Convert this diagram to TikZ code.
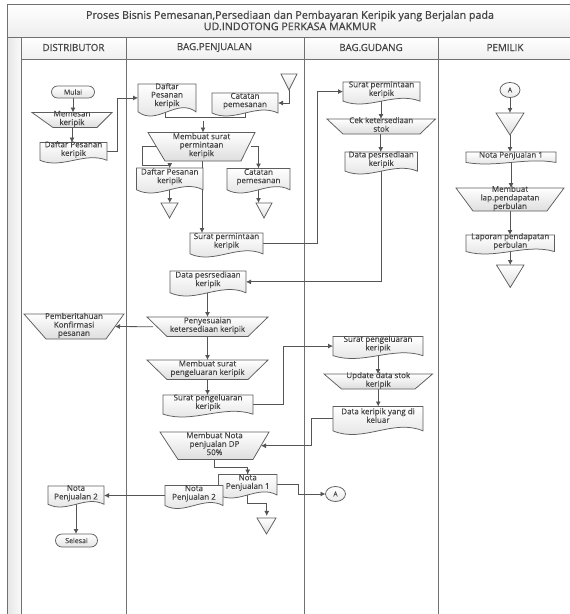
\documentclass[tikz,border=0pt]{standalone}
\usepackage{fontspec}
\setmainfont{Open Sans}[FakeBold=0.25]
\newfontfamily\headfont{Open Sans}[FakeBold=0.7]
\usetikzlibrary{shapes.misc,shapes.geometric,arrows.meta,calc}
\pgfdeclarelayer{bg}
\pgfsetlayers{bg,main}
\definecolor{ink}{HTML}{454545}
\definecolor{edge}{HTML}{5E5E5E}
\definecolor{wire}{HTML}{555555}
\definecolor{lane}{HTML}{707070}
\tikzset{
  shapeline/.style={draw=edge,line width=.75pt,top color=white,bottom color=black!13},
  anchorbox/.style={rectangle,inner sep=0pt,outer sep=0pt,text=ink},
  conn/.style={draw=wire,line width=.8pt,-{Latex[length=5pt,width=5pt]}},
  plainconn/.style={draw=wire,line width=.8pt},
  term/.style={rounded rectangle,draw=edge,line width=.75pt,top color=white,bottom color=black!10,inner sep=0pt,outer sep=0pt,text=ink},
  offpage/.style={ellipse,draw=edge,line width=.75pt,top color=white,bottom color=black!8,inner sep=0pt,outer sep=0pt,minimum width=20pt,minimum height=15pt,text=ink},
  lanerule/.style={draw=lane,line width=.9pt},
  head/.style={text=ink,inner sep=0pt,font=\headfont\fontsize{9.8}{11}\selectfont},
}
\newcommand\lbl[2]{\makebox[0pt]{\raisebox{#1}{\smash{\begin{tabular}[c]{@{}c@{}}#2\end{tabular}}}}}
\newcommand\docn[6]{%
  \pgfmathsetmacro\skW{#4-#2}\pgfmathsetmacro\skH{#5-#3}%
  \pgfmathsetmacro\skA{.13*\skH}\pgfmathsetmacro\skC{.45*\skH}%
  \pgfmathsetmacro\skM{#5-\skA}\pgfmathsetmacro\skR{.075*\skH-2.2}%
  \pgfmathsetmacro\skB{\skM-#3}%
  \path[shapeline] (#2,#3) -- (#4,#3) -- (#4,\skM) .. controls ({#4-.33*\skW},{\skM-\skC}) and ({#2+.33*\skW},{\skM+\skC}) .. (#2,\skM) -- cycle;
  \node[anchorbox,minimum width=\skW pt,minimum height=\skB pt] (#1) at ({(#2+#4)/2},{(#3+\skM)/2}) {\lbl{\skR pt}{#6}};
}
% name, top x1, y1, top x2, y2, bottom x1, bottom x2, text
\newcommand\trap[8]{%
  \pgfmathsetmacro\skW{#4-#2}\pgfmathsetmacro\skH{#5-#3}%
  \path[shapeline] (#2,#3) -- (#4,#3) -- (#7,#5) -- (#6,#5) -- cycle;
  \node[anchorbox,minimum width=\skW pt,minimum height=\skH pt] (#1) at ({(#2+#4)/2},{(#3+#5)/2}) {\lbl{-2.2pt}{#8}};
}
\newcommand\trin[5]{%
  \pgfmathsetmacro\skW{#4-#2}\pgfmathsetmacro\skH{#5-#3}%
  \path[shapeline] (#2,#3) -- (#4,#3) -- ({(#2+#4)/2},#5) -- cycle;
  \node[anchorbox,minimum width=\skW pt,minimum height=\skH pt] (#1) at ({(#2+#4)/2},{(#3+#5)/2}) {};
}
\begin{document}
\begin{tikzpicture}[x=1pt,y=-1pt,font=\fontsize{8}{8.3}\selectfont]
\useasboundingbox (0,0) rectangle (570,614);
\begin{pgfonlayer}{bg}
  \fill[white] (0,0) rectangle (570,614);
  \path[top color=white,bottom color=black!7] (7,4) rectangle (570,37);
  \path[left color=black!10,right color=black!2] (7,37) rectangle (21,614);
  \path[top color=white,bottom color=black!6] (21,37) rectangle (570,59);
  \draw[lanerule] (570,4) -- (7,4) -- (7,614);
  \draw[lanerule] (7,37) -- (570,37);
  \draw[lanerule] (21,59) -- (570,59);
  \draw[lanerule] (21,37) -- (21,614);
  \draw[lanerule] (126,37) -- (126,614);
  \draw[lanerule] (304,37) -- (304,614);
  \draw[lanerule] (438,37) -- (438,614);
\end{pgfonlayer}
\node[head,align=center,font=\headfont\fontsize{10.7}{11.4}\selectfont] (title) at (290,20.5) {Proses Bisnis Pemesanan,Persediaan dan Pembayaran Keripik yang Berjalan pada\\UD.INDOTONG PERKASA MAKMUR};
\node[head] (h1) at (73.5,47.5) {DISTRIBUTOR};
\node[head] (h2) at (214.5,47.5) {BAG.PENJUALAN};
\node[head] (h3) at (371,47.5) {BAG.GUDANG};
\node[head] (h4) at (505,47.5) {PEMILIK};

% Distributor
\node[term,minimum width=43pt,minimum height=12pt] (mulai) at (73,92) {\fontsize{7}{8}\selectfont Mulai};
\trap{memesan}{32}{112.5}{112}{127.5}{53}{97}{Memesan\\keripik}
\docn{dpk}{40}{142.5}{107}{163}{Daftar Pesanan\\keripik}
\trap{pemb}{24}{314}{124}{339}{46}{106}{Pemberitahuan\\Konfirmasi\\pesanan}
\docn{notaL}{48}{486}{104}{507}{Nota\\Penjualan 2}
\node[term,minimum width=42pt,minimum height=13pt] (selesai) at (76.5,540.5) {\fontsize{7}{8}\selectfont Selesai};

% Penjualan
\docn{dpm}{138}{84}{196}{116}{Daftar\\Pesanan\\keripik}
\docn{cat}{212}{93}{278}{116}{Catatan\\pemesanan}
\trin{ttop}{281}{74}{297}{90}
\trap{msp}{148}{132.5}{255}{161}{165}{241}{Membuat surat\\permintaan\\keripik}
\docn{dpb}{136.5}{168}{203}{193}{Daftar Pesanan\\keripik}
\docn{catb}{227}{168.5}{290}{193}{Catatan\\pemesanan}
\trin{tl}{161}{203}{178}{218}
\trin{tr}{256}{203}{272}{218}
\docn{spk}{190}{233}{263}{257}{Surat permintaan\\keripik}
\docn{dsp}{170}{271}{246}{296}{Data pesrsediaan\\keripik}
\trap{peny}{147}{317}{268}{336.5}{167}{248}{Penyesuaian\\ketersediaan keripik}
\trap{mpk}{147}{360}{268}{379.5}{167}{248}{Membuat surat\\pengeluaran keripik}
\docn{sgk}{163}{395}{253}{417}{Surat pengeluaran\\keripik}
\trap{mnota}{160}{432}{269}{459.5}{178}{253}{Membuat Nota\\penjualan DP\\50\%}
\docn{nota1}{218.5}{474.5}{277}{498}{Nota\\Penjualan 1}
\docn{nota2}{165}{485.5}{223}{508.5}{Nota\\Penjualan 2}
\trin{tb}{257}{518}{276}{534}
\node[offpage] (aout) at (335.5,494) {\fontsize{6.5}{8}\selectfont A};

% Gudang
\docn{gspk}{343}{82}{420}{104}{Surat permintaan\\keripik}
\trap{cek}{327}{119}{435.5}{134}{343}{420}{Cek ketersediaan\\stok}
\docn{gdsp}{345}{152}{417.5}{174}{Data pesrsediaan\\keripik}
\docn{gsgk}{333}{336.5}{423}{358.5}{Surat pengeluaran\\keripik}
\trap{upd}{324}{374}{432.5}{389}{341.5}{415}{Update data stok\\keripik}
\docn{dkk}{333}{406.5}{423}{434.5}{Data keripik yang di\\keluar}

% Pemilik
\node[offpage] (ain) at (510,90) {\fontsize{6.5}{8}\selectfont A};
\trin{tp1}{496}{113}{524}{135}
\docn{pn1}{466}{152}{556}{164}{Nota Penjualan 1}
\trap{lap}{456}{188}{564}{211}{473}{547}{Membuat\\lap.pendapatan\\perbulan}
\docn{lpp}{466}{235}{554.5}{254}{Laporan pendapatan\\perbulan}
\trin{tp2}{496.5}{265}{524}{287.5}

\begin{pgfonlayer}{bg}
  \draw[conn] (mulai.south) -- (mulai.south |- memesan.north);
  \draw[conn] (memesan.south) -- (memesan.south |- dpk.north);
  \draw[conn] (dpk.east) -- ++(10,0) |- (dpm.west);
  \draw[conn] (ttop.south) |- (cat.east);
  \draw[plainconn] ([xshift=-2pt]dpm.south) -- ++(0,5.5) -| (cat.south);
  \coordinate (mergept) at (203,121);
  \draw[conn] (mergept) -- (mergept |- msp.north);
  \draw[conn] (msp.west) ++(8,0) -| (142,165) -| (dpb.north) ;
  \draw[conn] (msp.east) ++(-4,0) -| (catb.north);
  \draw[conn] (dpb.south) -- (dpb.south |- tl.north);
  \draw[conn] (catb.south) -- (catb.south |- tr.north);
  \draw[conn] ([xshift=.5pt]msp.south) -- ([xshift=.5pt]msp.south |- spk.north);
  \draw[conn] (spk.east) -- ++(54,0) |- (gspk.west);
  \draw[conn] ([xshift=-.5pt]gspk.south) -- ([xshift=-.5pt]gspk.south |- cek.north);
  \draw[conn] ([xshift=-.5pt]cek.south) -- ([xshift=-.5pt]cek.south |- gdsp.north);
  \draw[conn] (gdsp.south) |- (dsp.east);
  \draw[conn] ([xshift=-.5pt]dsp.south) -- ([xshift=-.5pt]dsp.south |- peny.north);
  \draw[conn] ($(peny.west)+(6,0)$) -- ($(pemb.east)+(-9,0)$ |- peny.west);
  \draw[conn] (peny.south) -- (peny.south |- mpk.north);
  \draw[conn] (mpk.south) -- (mpk.south |- sgk.north);
  \draw[conn] (sgk.east) -- ++(30,0) |- (gsgk.west);
  \draw[conn] (gsgk.south) -- (gsgk.south |- upd.north);
  \draw[conn] (upd.south) -- (upd.south |- dkk.north);
  \draw[conn] (dkk.west) -- ++(-21.5,0) |- ($(mnota.east)+(-8,0)$);
  \draw[plainconn] ([xshift=0pt]mnota.south) -- ++(0,8.2) -| (nota1.south) ;
  \draw[conn] (nota1.north |- 0,467.7) -- (nota1.north);
  \draw[conn] (nota2.west) -- (nota2.west -| notaL.east);
  \draw[conn] (notaL.south) -- (notaL.south |- selesai.north);
  \draw[conn] (nota1.east) -- ++(21,0) |- (aout.west);
  \draw[conn] (nota1.south) |- ++(19,8) -- ++(0,13);
  \draw[conn] (ain.south) -- (ain.south |- tp1.north);
  \draw[conn] (tp1.south) -- (tp1.south |- pn1.north);
  \draw[conn] (pn1.south) -- (pn1.south |- lap.north);
  \draw[conn] (lap.south) -- (lap.south |- lpp.north);
  \draw[conn] (lpp.south) -- (lpp.south |- tp2.north);
\end{pgfonlayer}
\end{tikzpicture}
\end{document}
